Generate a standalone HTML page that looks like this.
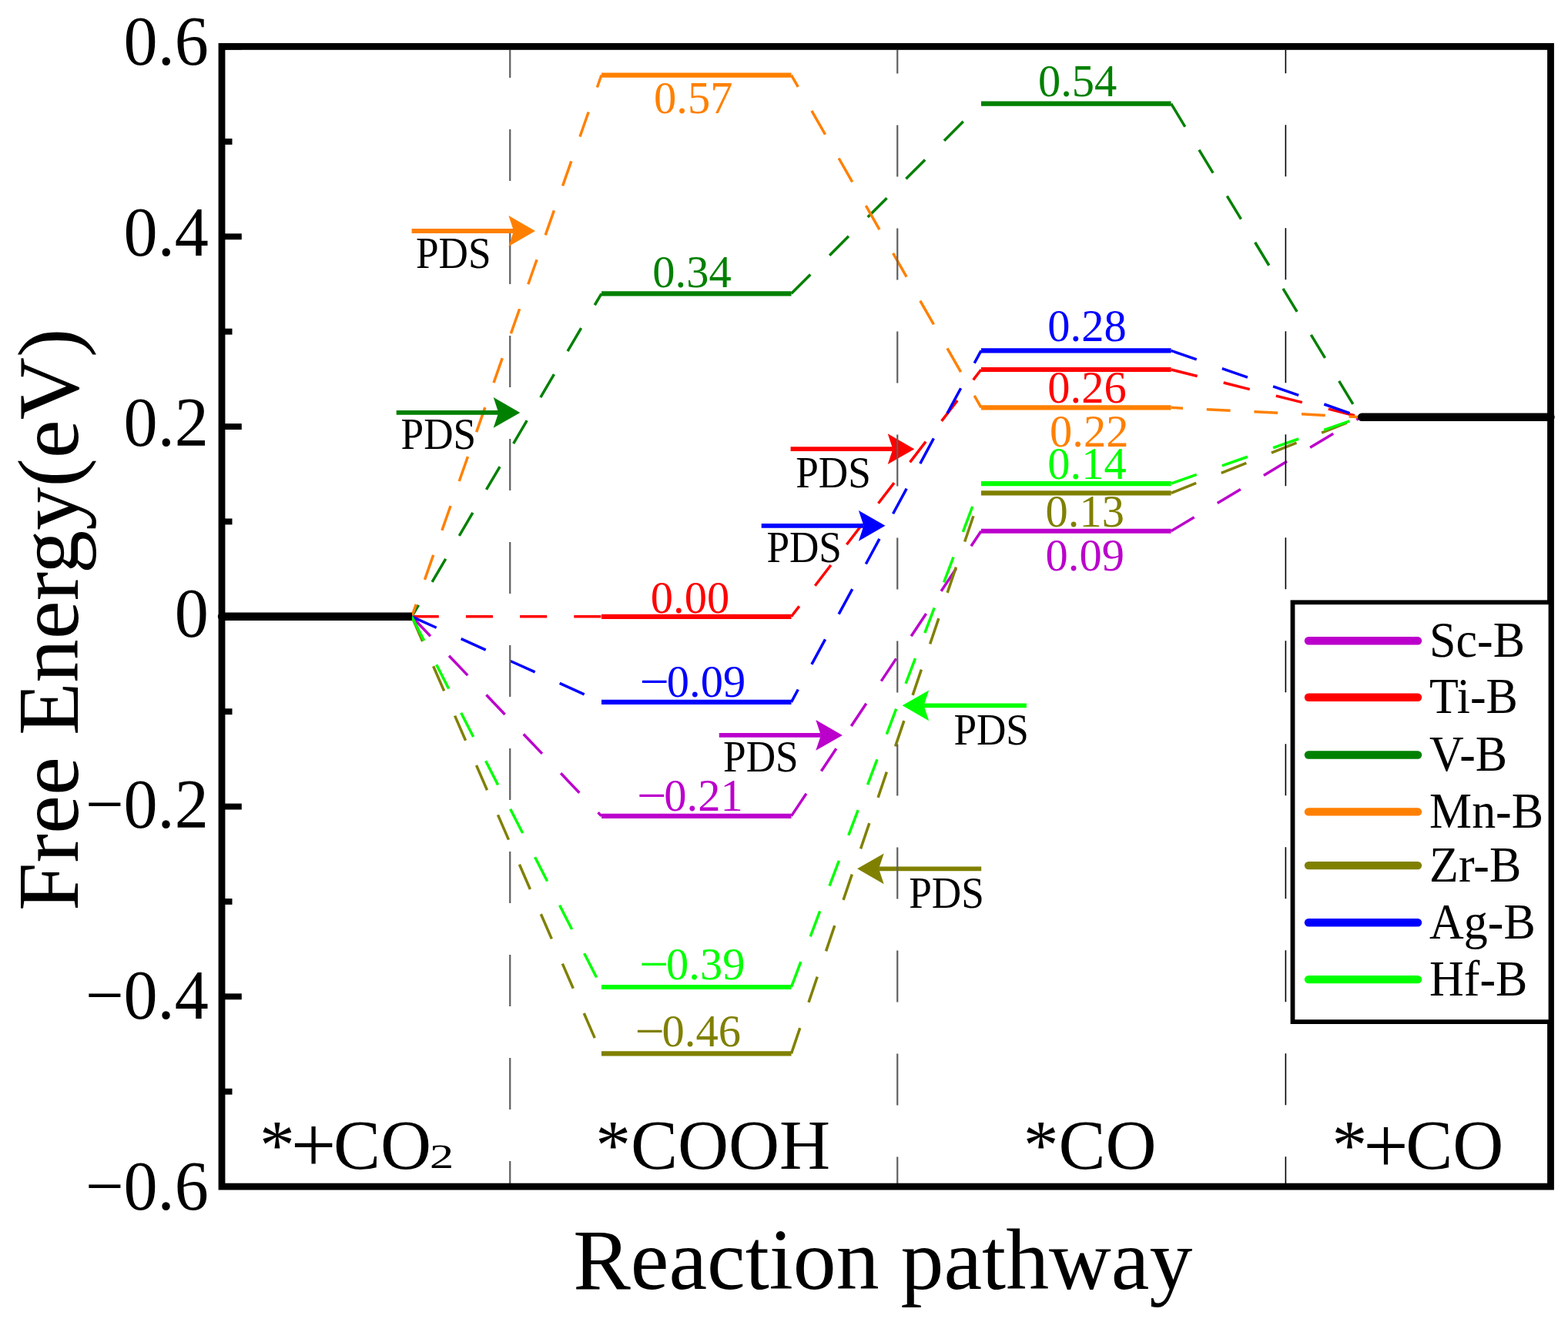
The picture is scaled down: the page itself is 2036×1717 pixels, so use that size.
<!DOCTYPE html>
<html><head><meta charset="utf-8"><title>Free energy diagram</title><style>html,body{margin:0;padding:0;background:#fff;overflow:hidden}svg{display:block}</style></head><body>
<svg width="2036" height="1717" viewBox="0 0 2036 1717">
<rect width="100%" height="100%" fill="#fff"/>
<g>
<path d="M534.70,800.80L781.00,1059.90" stroke="#BB00CC" stroke-width="3.5" fill="none" stroke-dasharray="35.10 35.10" stroke-dashoffset="0.00"/>
<path d="M1027.50,1059.90L1274.00,689.76" stroke="#BB00CC" stroke-width="3.5" fill="none" stroke-dasharray="35.10 35.10" stroke-dashoffset="0.00"/>
<path d="M1520.60,689.76L1767.00,541.70" stroke="#BB00CC" stroke-width="3.5" fill="none" stroke-dasharray="35.10 35.10" stroke-dashoffset="0.00"/>
<path d="M534.70,800.80L781.00,800.80" stroke="#FF0000" stroke-width="3.5" fill="none" stroke-dasharray="35.10 35.10" stroke-dashoffset="0.00"/>
<path d="M1027.50,800.80L1274.00,480.01" stroke="#FF0000" stroke-width="3.5" fill="none" stroke-dasharray="33.71 33.71" stroke-dashoffset="16.86"/>
<path d="M1520.60,480.01L1767.00,541.70" stroke="#FF0000" stroke-width="3.5" fill="none" stroke-dasharray="35.10 35.10" stroke-dashoffset="0.00"/>
<path d="M534.70,800.80L781.00,381.31" stroke="#008000" stroke-width="3.5" fill="none" stroke-dasharray="34.75 34.75" stroke-dashoffset="17.37"/>
<path d="M1027.50,381.31L1274.00,134.55" stroke="#008000" stroke-width="3.5" fill="none" stroke-dasharray="35.10 35.10" stroke-dashoffset="0.00"/>
<path d="M1520.60,134.55L1767.00,541.70" stroke="#008000" stroke-width="3.5" fill="none" stroke-dasharray="35.10 35.10" stroke-dashoffset="0.00"/>
<path d="M534.70,800.80L781.00,97.53" stroke="#FF8000" stroke-width="3.5" fill="none" stroke-dasharray="33.87 33.87" stroke-dashoffset="16.94"/>
<path d="M1027.50,97.53L1274.00,529.36" stroke="#FF8000" stroke-width="3.5" fill="none" stroke-dasharray="35.52 35.52" stroke-dashoffset="17.76"/>
<path d="M1520.60,529.36L1767.00,541.70" stroke="#FF8000" stroke-width="3.5" fill="none" stroke-dasharray="30.84 30.84" stroke-dashoffset="15.42"/>
<path d="M534.70,800.80L781.00,1368.35" stroke="#808000" stroke-width="3.5" fill="none" stroke-dasharray="35.10 35.10" stroke-dashoffset="0.00"/>
<path d="M1027.50,1368.35L1274.00,640.41" stroke="#808000" stroke-width="3.5" fill="none" stroke-dasharray="35.10 35.10" stroke-dashoffset="0.00"/>
<path d="M1520.60,640.41L1767.00,541.70" stroke="#808000" stroke-width="3.5" fill="none" stroke-dasharray="35.10 35.10" stroke-dashoffset="0.00"/>
<path d="M534.70,800.80L781.00,911.84" stroke="#0000FF" stroke-width="3.5" fill="none" stroke-dasharray="35.10 35.10" stroke-dashoffset="0.00"/>
<path d="M1027.50,911.84L1274.00,455.34" stroke="#0000FF" stroke-width="3.5" fill="none" stroke-dasharray="37.06 37.06" stroke-dashoffset="18.53"/>
<path d="M1520.60,455.34L1767.00,541.70" stroke="#0000FF" stroke-width="3.5" fill="none" stroke-dasharray="35.10 35.10" stroke-dashoffset="0.00"/>
<path d="M534.70,800.80L781.00,1281.98" stroke="#00FF00" stroke-width="3.5" fill="none" stroke-dasharray="35.10 35.10" stroke-dashoffset="0.00"/>
<path d="M1027.50,1281.98L1274.00,628.07" stroke="#00FF00" stroke-width="3.5" fill="none" stroke-dasharray="35.10 35.10" stroke-dashoffset="0.00"/>
<path d="M1520.60,628.07L1767.00,541.70" stroke="#00FF00" stroke-width="3.5" fill="none" stroke-dasharray="35.10 35.10" stroke-dashoffset="0.00"/>
</g>
<line x1="288" y1="800.80" x2="535.00" y2="800.80" stroke="#000" stroke-width="10.4"/>
<circle cx="288" cy="800.80" r="5.2" fill="#000"/>
<line x1="1768.20" y1="541.70" x2="2013.5" y2="541.70" stroke="#000" stroke-width="10.4" stroke-linecap="round"/>
<line x1="781.0" y1="1059.90" x2="1027.5" y2="1059.90" stroke="#BB00CC" stroke-width="6.2"/>
<line x1="1274.0" y1="689.76" x2="1520.6" y2="689.76" stroke="#BB00CC" stroke-width="6.2"/>
<line x1="781.0" y1="800.80" x2="1027.5" y2="800.80" stroke="#FF0000" stroke-width="6.2"/>
<line x1="1274.0" y1="480.01" x2="1520.6" y2="480.01" stroke="#FF0000" stroke-width="6.2"/>
<line x1="781.0" y1="381.31" x2="1027.5" y2="381.31" stroke="#008000" stroke-width="6.2"/>
<line x1="1274.0" y1="134.55" x2="1520.6" y2="134.55" stroke="#008000" stroke-width="6.2"/>
<line x1="781.0" y1="97.53" x2="1027.5" y2="97.53" stroke="#FF8000" stroke-width="6.2"/>
<line x1="1274.0" y1="529.36" x2="1520.6" y2="529.36" stroke="#FF8000" stroke-width="6.2"/>
<line x1="781.0" y1="1368.35" x2="1027.5" y2="1368.35" stroke="#808000" stroke-width="6.2"/>
<line x1="1274.0" y1="640.41" x2="1520.6" y2="640.41" stroke="#808000" stroke-width="6.2"/>
<line x1="781.0" y1="911.84" x2="1027.5" y2="911.84" stroke="#0000FF" stroke-width="6.2"/>
<line x1="1274.0" y1="455.34" x2="1520.6" y2="455.34" stroke="#0000FF" stroke-width="6.2"/>
<line x1="781.0" y1="1281.98" x2="1027.5" y2="1281.98" stroke="#00FF00" stroke-width="6.2"/>
<line x1="1274.0" y1="628.07" x2="1520.6" y2="628.07" stroke="#00FF00" stroke-width="6.2"/>
<line x1="514.7" y1="535.9" x2="647.30" y2="535.9" stroke="#008000" stroke-width="5.8"/><path d="M675.3,535.9L640.70,516.00L647.30,535.9L640.70,555.80Z" fill="#008000"/>
<line x1="1026.6" y1="583.2" x2="1159.30" y2="583.2" stroke="#FF0000" stroke-width="5.8"/><path d="M1187.3,583.2L1152.70,563.30L1159.30,583.2L1152.70,603.10Z" fill="#FF0000"/>
<line x1="988.7" y1="682.8" x2="1121.50" y2="682.8" stroke="#0000FF" stroke-width="5.8"/><path d="M1149.5,682.8L1114.90,662.90L1121.50,682.8L1114.90,702.70Z" fill="#0000FF"/>
<line x1="933.8" y1="954.9" x2="1065.90" y2="954.9" stroke="#BB00CC" stroke-width="5.8"/><path d="M1093.9,954.9L1059.30,935.00L1065.90,954.9L1059.30,974.80Z" fill="#BB00CC"/>
<line x1="1332.9" y1="916.3" x2="1199.60" y2="916.3" stroke="#00FF00" stroke-width="5.8"/><path d="M1171.6,916.3L1206.20,896.40L1199.60,916.3L1206.20,936.20Z" fill="#00FF00"/>
<line x1="1274.2" y1="1128.3" x2="1141.10" y2="1128.3" stroke="#808000" stroke-width="5.8"/><path d="M1113.1,1128.3L1147.70,1108.40L1141.10,1128.3L1147.70,1148.20Z" fill="#808000"/>
<g fill="none">
<line x1="662.25" y1="64.8" x2="662.25" y2="1537" stroke="#5f5f5f" stroke-width="2.2" stroke-dasharray="67 67" stroke-dashoffset="30.80"/>
<line x1="1165.25" y1="64.8" x2="1165.25" y2="1537" stroke="#5f5f5f" stroke-width="2.2" stroke-dasharray="67 67" stroke-dashoffset="36.30"/>
<line x1="1669.4" y1="64.8" x2="1669.4" y2="1537" stroke="#000" stroke-width="1.6" stroke-dasharray="67 67" stroke-dashoffset="36.50"/>
</g>
<line x1="534.6" y1="300.0" x2="667.00" y2="300.0" stroke="#FF8000" stroke-width="5.8"/><path d="M695.0,300.0L660.40,280.10L667.00,300.0L660.40,319.90Z" fill="#FF8000"/>
<rect x="288" y="60.4" width="1725.5" height="1480.7" fill="none" stroke="#000" stroke-width="8.8"/>
<line x1="288" y1="1541.08" x2="313.8" y2="1541.08" stroke="#000" stroke-width="7.9"/>
<line x1="288" y1="1417.70" x2="301.5" y2="1417.70" stroke="#000" stroke-width="7.9"/>
<line x1="288" y1="1294.32" x2="313.8" y2="1294.32" stroke="#000" stroke-width="7.9"/>
<line x1="288" y1="1170.94" x2="301.5" y2="1170.94" stroke="#000" stroke-width="7.9"/>
<line x1="288" y1="1047.56" x2="313.8" y2="1047.56" stroke="#000" stroke-width="7.9"/>
<line x1="288" y1="924.18" x2="301.5" y2="924.18" stroke="#000" stroke-width="7.9"/>
<line x1="288" y1="800.80" x2="313.8" y2="800.80" stroke="#000" stroke-width="7.9"/>
<line x1="288" y1="677.42" x2="301.5" y2="677.42" stroke="#000" stroke-width="7.9"/>
<line x1="288" y1="554.04" x2="313.8" y2="554.04" stroke="#000" stroke-width="7.9"/>
<line x1="288" y1="430.66" x2="301.5" y2="430.66" stroke="#000" stroke-width="7.9"/>
<line x1="288" y1="307.28" x2="313.8" y2="307.28" stroke="#000" stroke-width="7.9"/>
<line x1="288" y1="183.90" x2="301.5" y2="183.90" stroke="#000" stroke-width="7.9"/>
<line x1="288" y1="60.52" x2="313.8" y2="60.52" stroke="#000" stroke-width="7.9"/>
<text transform="translate(270.8,83.78) scale(0.975,1)" text-anchor="end" font-family='"Liberation Serif", serif' font-size="90.5">0.6</text>
<text transform="translate(270.8,331.62) scale(0.975,1)" text-anchor="end" font-family='"Liberation Serif", serif' font-size="90.5">0.4</text>
<text transform="translate(270.8,579.46) scale(0.975,1)" text-anchor="end" font-family='"Liberation Serif", serif' font-size="90.5">0.2</text>
<text transform="translate(270.8,827.30) scale(0.975,1)" text-anchor="end" font-family='"Liberation Serif", serif' font-size="90.5">0</text>
<text transform="translate(270.8,1075.14) scale(0.975,1)" text-anchor="end" font-family='"Liberation Serif", serif' font-size="90.5">−0.2</text>
<text transform="translate(270.8,1322.98) scale(0.975,1)" text-anchor="end" font-family='"Liberation Serif", serif' font-size="90.5">−0.4</text>
<text transform="translate(270.8,1570.82) scale(0.975,1)" text-anchor="end" font-family='"Liberation Serif", serif' font-size="90.5">−0.6</text>
<rect x="1678.5" y="782.3" width="335" height="544.8" fill="#fff" stroke="#000" stroke-width="5.8"/>
<line x1="1699" y1="832.20" x2="1841" y2="832.20" stroke="#BB00CC" stroke-width="10.4" stroke-linecap="round"/>
<text transform="translate(1856.1,852.90) scale(0.96,1)" font-family='"Liberation Serif", serif' font-size="64.5">Sc-B</text>
<line x1="1699" y1="905.70" x2="1841" y2="905.70" stroke="#FF0000" stroke-width="10.4" stroke-linecap="round"/>
<text transform="translate(1856.1,926.40) scale(0.96,1)" font-family='"Liberation Serif", serif' font-size="64.5">Ti-B</text>
<line x1="1699" y1="980.50" x2="1841" y2="980.50" stroke="#008000" stroke-width="10.4" stroke-linecap="round"/>
<text transform="translate(1856.1,1001.20) scale(0.96,1)" font-family='"Liberation Serif", serif' font-size="64.5">V-B</text>
<line x1="1699" y1="1054.40" x2="1841" y2="1054.40" stroke="#FF8000" stroke-width="10.4" stroke-linecap="round"/>
<text transform="translate(1856.1,1075.10) scale(0.96,1)" font-family='"Liberation Serif", serif' font-size="64.5">Mn-B</text>
<line x1="1699" y1="1124.10" x2="1841" y2="1124.10" stroke="#808000" stroke-width="10.4" stroke-linecap="round"/>
<text transform="translate(1856.1,1144.80) scale(0.96,1)" font-family='"Liberation Serif", serif' font-size="64.5">Zr-B</text>
<line x1="1699" y1="1198.20" x2="1841" y2="1198.20" stroke="#0000FF" stroke-width="10.4" stroke-linecap="round"/>
<text transform="translate(1856.1,1218.90) scale(0.96,1)" font-family='"Liberation Serif", serif' font-size="64.5">Ag-B</text>
<line x1="1699" y1="1272.10" x2="1841" y2="1272.10" stroke="#00FF00" stroke-width="10.4" stroke-linecap="round"/>
<text transform="translate(1856.1,1292.80) scale(0.96,1)" font-family='"Liberation Serif", serif' font-size="64.5">Hf-B</text>
<text x="849.0" y="147.3" fill="#FF8000" font-family='"Liberation Serif", serif' font-size="58.5">0.57</text>
<text x="847.3" y="372.5" fill="#008000" font-family='"Liberation Serif", serif' font-size="58.5">0.34</text>
<text x="844.8" y="795.8" fill="#FF0000" font-family='"Liberation Serif", serif' font-size="58.5">0.00</text>
<text x="830.6" y="905.1" fill="#0000FF" font-family='"Liberation Serif", serif' font-size="58.5"><tspan font-size="68" dy="2.83">−</tspan><tspan dx="-3.2" dy="-2.83">0.09</tspan></text>
<text x="827.1" y="1053.2" fill="#BB00CC" font-family='"Liberation Serif", serif' font-size="58.5"><tspan font-size="68" dy="2.83">−</tspan><tspan dx="-3.2" dy="-2.83">0.21</tspan></text>
<text x="829.9" y="1272.4" fill="#00FF00" font-family='"Liberation Serif", serif' font-size="58.5"><tspan font-size="68" dy="2.83">−</tspan><tspan dx="-3.2" dy="-2.83">0.39</tspan></text>
<text x="824.4" y="1359.2" fill="#808000" font-family='"Liberation Serif", serif' font-size="58.5"><tspan font-size="68" dy="2.83">−</tspan><tspan dx="-3.2" dy="-2.83">0.46</tspan></text>
<text x="1347.9" y="124.8" fill="#008000" font-family='"Liberation Serif", serif' font-size="58.5">0.54</text>
<text x="1360.3" y="443.2" fill="#0000FF" font-family='"Liberation Serif", serif' font-size="58.5">0.28</text>
<text x="1360.3" y="523.0" fill="#FF0000" font-family='"Liberation Serif", serif' font-size="58.5">0.26</text>
<text x="1363.0" y="579.7" fill="#FF8000" font-family='"Liberation Serif", serif' font-size="58.5">0.22</text>
<text x="1360.3" y="622.0" fill="#00FF00" font-family='"Liberation Serif", serif' font-size="58.5">0.14</text>
<text x="1357.5" y="683.7" fill="#808000" font-family='"Liberation Serif", serif' font-size="58.5">0.13</text>
<text x="1357.5" y="740.6" fill="#BB00CC" font-family='"Liberation Serif", serif' font-size="58.5">0.09</text>
<text transform="translate(540.0,347.5) scale(0.917,1)" font-family='"Liberation Serif", serif' font-size="58">PDS</text>
<text transform="translate(520.6,583.4) scale(0.917,1)" font-family='"Liberation Serif", serif' font-size="58">PDS</text>
<text transform="translate(1033.2,632.7) scale(0.917,1)" font-family='"Liberation Serif", serif' font-size="58">PDS</text>
<text transform="translate(995.4,729.9) scale(0.917,1)" font-family='"Liberation Serif", serif' font-size="58">PDS</text>
<text transform="translate(939.1,1001.9) scale(0.917,1)" font-family='"Liberation Serif", serif' font-size="58">PDS</text>
<text transform="translate(1238.4,966.8) scale(0.917,1)" font-family='"Liberation Serif", serif' font-size="58">PDS</text>
<text transform="translate(1180.3,1178.8) scale(0.917,1)" font-family='"Liberation Serif", serif' font-size="58">PDS</text>
<text x="336.9" y="1518.3" font-family='"Liberation Serif", serif' font-size="91.5">*<tspan dx="-4.83" dy="4.0" font-size="104">+</tspan><tspan dx="-3.52" dy="-4.0">CO</tspan></text>
<text transform="translate(555.0,1502.1) scale(1.34,1)" font-family='"Liberation Serif", serif' font-size="78">₂</text>
<text x="773.2" y="1518.3" font-family='"Liberation Serif", serif' font-size="91.5">*COOH</text>
<text x="1328.7" y="1518.3" font-family='"Liberation Serif", serif' font-size="91.5">*CO</text>
<text x="1729.6" y="1518.3" font-family='"Liberation Serif", serif' font-size="91.5">*<tspan dx="-5.1" dy="4.2" font-size="103.8">+</tspan><tspan dx="-3.5" dy="-4.2">CO</tspan></text>
<text x="744.3" y="1674.3" font-family='"Liberation Serif", serif' font-size="111.8">Reaction pathway</text>
<text transform="translate(100.9,1182.9) rotate(-90)" font-family='"Liberation Serif", serif' font-size="112.4">Free Energy(eV)</text>
</svg>
</body></html>
